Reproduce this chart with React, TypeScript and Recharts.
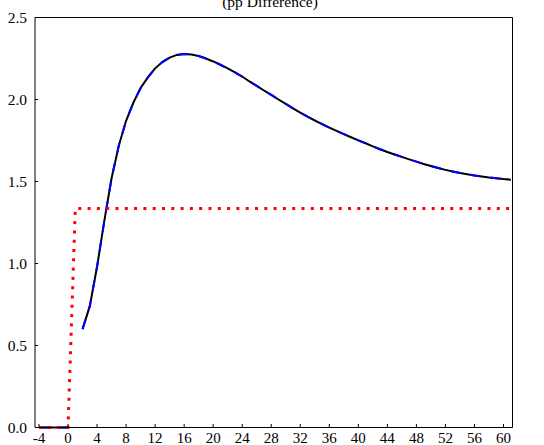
import React from 'react';
import { LineChart, Line, XAxis, YAxis, ReferenceLine } from 'recharts';

const quarters: number[] = [-4, -3, -2, -1, 0, 1, 2, 3, 4, 5, 6, 7, 8, 9, 10, 11, 12, 13, 14, 15, 16, 17, 18, 19, 20, 21, 22, 23, 24, 25, 26, 27, 28, 29, 30, 31, 32, 33, 34, 35, 36, 37, 38, 39, 40, 41, 42, 43, 44, 45, 46, 47, 48, 49, 50, 51, 52, 53, 54, 55, 56, 57, 58, 59, 60, 61];

const responseValues: (number | null)[] = [
  0, 0, 0, 0, 0, null,
  0.60, 0.74, 0.98, 1.26, 1.52, 1.72, 1.87, 1.98, 2.07, 2.135,
  2.19, 2.228, 2.255, 2.272, 2.278, 2.275, 2.265, 2.25, 2.232, 2.212,
  2.19, 2.165, 2.14, 2.11, 2.083, 2.055, 2.028, 2.0, 1.973, 1.946,
  1.92, 1.895, 1.872, 1.85, 1.829, 1.809, 1.789, 1.77, 1.751, 1.733,
  1.714, 1.697, 1.68, 1.665, 1.65, 1.635, 1.621, 1.607, 1.594, 1.582,
  1.571, 1.561, 1.552, 1.544, 1.537, 1.531, 1.525, 1.52, 1.515, 1.511,
];

const stepValues: number[] = [
  0, 0, 0, 0, 0,
  1.335, 1.335, 1.335, 1.335, 1.335, 1.335, 1.335, 1.335, 1.335, 1.335, 1.335,
  1.335, 1.335, 1.335, 1.335, 1.335, 1.335, 1.335, 1.335, 1.335, 1.335,
  1.335, 1.335, 1.335, 1.335, 1.335, 1.335, 1.335, 1.335, 1.335, 1.335,
  1.335, 1.335, 1.335, 1.335, 1.335, 1.335, 1.335, 1.335, 1.335, 1.335,
  1.335, 1.335, 1.335, 1.335, 1.335, 1.335, 1.335, 1.335, 1.335, 1.335,
  1.335, 1.335, 1.335, 1.335, 1.335, 1.335, 1.335, 1.335, 1.335, 1.335,
];

const xTicks: number[] = [-4, 0, 4, 8, 12, 16, 20, 24, 28, 32, 36, 40, 44, 48, 52, 56, 60];
const yTicks: number[] = [0, 0.5, 1.0, 1.5, 2.0, 2.5];
const titleText = '(pp Difference)';

const data = quarters.map((q, i) => ({ q, resp: responseValues[i], step: stepValues[i] }));

const FONT = '"Liberation Serif", "Times New Roman", serif';
const FS = 15.5;

const LeftTick = (props: any) => {
  const { x, y, payload } = props;
  const ax = x + 8;
  return (
    <g>
      <line x1={ax} x2={ax + 3} y1={y} y2={y} stroke="#000" strokeWidth={1} />
      <text x={x} y={y} dy="0.355em" textAnchor="end" fontFamily={FONT} fontSize={FS} fill="#000">
        {Number(payload.value).toFixed(1)}
      </text>
    </g>
  );
};

const RightTick = (props: any) => {
  const { x, y, payload } = props;
  const ax = x - 8;
  return (
    <g>
      <line x1={ax - 3} x2={ax} y1={y} y2={y} stroke="#000" strokeWidth={1} />
      <text x={x} y={y} dy="0.355em" textAnchor="start" fontFamily={FONT} fontSize={FS} fill="#000">
        {Number(payload.value).toFixed(1)}
      </text>
    </g>
  );
};

const BottomTick = (props: any) => {
  const { x, y, payload } = props;
  const ay = y - 5;
  return (
    <g>
      <line x1={x} x2={x} y1={ay - 3.5} y2={ay} stroke="#000" strokeWidth={1} />
      <text x={x} y={y} dy="0.71em" textAnchor="middle" fontFamily={FONT} fontSize={15} fill="#000">
        {String(payload.value)}
      </text>
    </g>
  );
};

export default function App() {
  return (
    <div style={{ position: 'absolute', left: 0, top: 0, width: 544, height: 445, background: '#fff' }}>
      <LineChart
        width={544}
        height={445}
        data={data}
        margin={{ top: 17.5, right: 0, bottom: 0, left: 0 }}
      >
        <XAxis
          dataKey="q"
          type="number"
          domain={[-4.55, 61.24]}
          ticks={xTicks}
          allowDataOverflow
          height={17.5}
          stroke="#000"
          tickSize={0}
          tickMargin={5}
          tickLine={false}
          tick={<BottomTick />}
          interval={0}
        />
        <YAxis
          yAxisId="left"
          orientation="left"
          domain={[0, 2.5]}
          ticks={yTicks}
          width={35}
          stroke="#000"
          tickSize={0}
          tickMargin={8}
          tickLine={false}
          tick={<LeftTick />}
          interval={0}
        />
        <YAxis
          yAxisId="right"
          orientation="right"
          domain={[0, 2.5]}
          ticks={yTicks}
          width={31.5}
          stroke="#000"
          tickSize={0}
          tickMargin={8}
          tickLine={false}
          tick={<RightTick />}
          interval={0}
        />
        <ReferenceLine yAxisId="left" y={2.5} stroke="#000" strokeWidth={1} />
        <Line
          yAxisId="left"
          dataKey="resp"
          type="linear"
          stroke="#000"
          strokeWidth={2}
          dot={false}
          activeDot={false}
          isAnimationActive={false}
        />
        <Line
          yAxisId="left"
          dataKey="resp"
          type="linear"
          stroke="#0000ff"
          strokeWidth={2}
          strokeDasharray="10 10"
          dot={false}
          activeDot={false}
          isAnimationActive={false}
        />
        <Line
          yAxisId="left"
          dataKey="step"
          type="linear"
          stroke="#ff0000"
          strokeWidth={3}
          strokeDasharray="3 6.3"
          dot={false}
          activeDot={false}
          isAnimationActive={false}
        />
      </LineChart>
      <svg width={544} height={20} style={{ position: 'absolute', left: 0, top: 0, overflow: 'visible' }}>
        <text x={270} y={6.5} textAnchor="middle" fontFamily={FONT} fontSize={FS} fill="#000">
          {titleText}
        </text>
      </svg>
    </div>
  );
}
